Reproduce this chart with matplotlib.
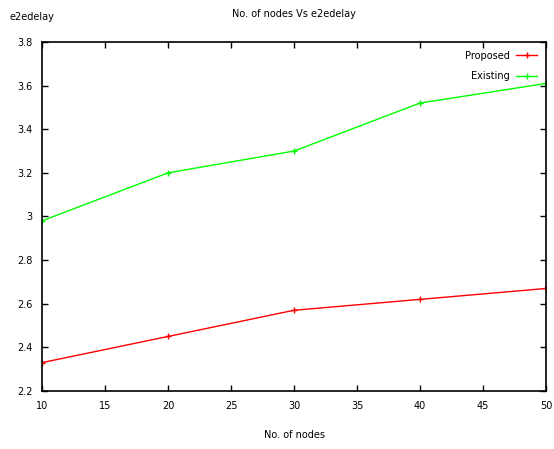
import matplotlib
matplotlib.use("Agg")
import matplotlib.pyplot as plt

nodes = [10, 20, 30, 40, 50]
proposed = [2.33, 2.45, 2.57, 2.62, 2.67]
existing = [2.98, 3.20, 3.30, 3.52, 3.61]

plt.rcParams['font.family'] = ['DejaVu Sans']
plt.rcParams['font.size'] = 7

fig = plt.figure(figsize=(5.54, 4.49), dpi=100)
ax = fig.add_axes([0.0758, 0.1292, 0.9098, 0.7773])

ax.plot(nodes, proposed, color='#ff0000', lw=1, marker='+', ms=5, mew=1, label='Proposed')
ax.plot(nodes, existing, color='#00ff00', lw=1, marker='+', ms=5, mew=1, label='Existing')

ax.set_xlim(10, 50)
ax.set_ylim(2.2, 3.8)
ax.set_xticks(range(10, 51, 5))
ax.set_yticks([2.2, 2.4, 2.6, 2.8, 3.0, 3.2, 3.4, 3.6, 3.8])
ax.set_yticklabels(['2.2', '2.4', '2.6', '2.8', '3', '3.2', '3.4', '3.6', '3.8'])
ax.tick_params(direction='in', top=True, right=True, length=4, width=1, pad=7)
for s in ax.spines.values():
    s.set_linewidth(1.2)

ax.set_title('No. of nodes Vs e2edelay', fontsize=7, pad=18)
ax.set_xlabel('No. of nodes', labelpad=14)
fig.text(0.018, 0.962, 'e2edelay', fontsize=7, va='center', ha='left')

ax.legend(loc='upper right', frameon=False, markerfirst=False, handlelength=2.2,
          borderaxespad=0.5, labelspacing=1.1, handletextpad=0.6)

fig.savefig('out.png', dpi=100)
